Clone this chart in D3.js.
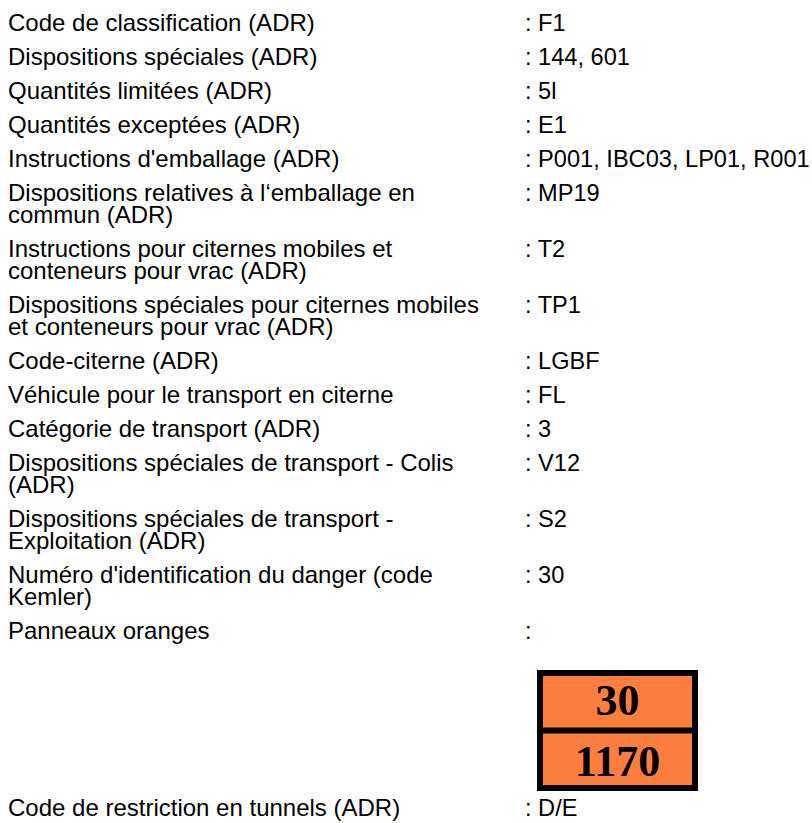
<!DOCTYPE html>
<html lang="fr">
<head>
    <meta charset="UTF-8">
    <title>ADR</title>
    <script src="https://d3js.org/d3.v7.min.js"></script>
</head>
<style>
    * { margin: 0; padding: 0; }
    body { background: #fff; }
    text { font-family: "Liberation Sans", Arial, sans-serif; font-size: 24px; fill: #000; }
    text.val { font-size: 23.6px; }
</style>
<body>
<script>
    // each label is a list of lines
    var labels = [
        ["Code de classification (ADR)"],
        ["Dispositions spéciales (ADR)"],
        ["Quantités limitées (ADR)"],
        ["Quantités exceptées (ADR)"],
        ["Instructions d'emballage (ADR)"],
        ["Dispositions relatives à l‘emballage en", "commun (ADR)"],
        ["Instructions pour citernes mobiles et", "conteneurs pour vrac (ADR)"],
        ["Dispositions spéciales pour citernes mobiles", "et conteneurs pour vrac (ADR)"],
        ["Code-citerne (ADR)"],
        ["Véhicule pour le transport en citerne"],
        ["Catégorie de transport (ADR)"],
        ["Dispositions spéciales de transport - Colis", "(ADR)"],
        ["Dispositions spéciales de transport -", "Exploitation (ADR)"],
        ["Numéro d'identification du danger (code", "Kemler)"],
        ["Panneaux oranges"],
        ["Code de restriction en tunnels (ADR)"]
    ]
    var values = [": F1", ": 144, 601", ": 5l", ": E1", ": P001, IBC03, LP01, R001",
        ": MP19", ": T2", ": TP1", ": LGBF", ": FL", ": 3", ": V12", ": S2", ": 30", ":", ": D/E"]
    var panelIndex = 14
    var panelNumbers = ["30", "1170"]

    var W = 812, H = 823
    var lineH = 22, rowPad = 12, panelRowH = 177
    var labelX = 8, valueX = 525, startY = 7, baseOff = 24

    // row heights -> cumulative tops
    var heights = labels.map(function(l, i) {
        return i === panelIndex ? panelRowH : l.length * lineH + rowPad
    })
    var tops = []
    heights.reduce(function(acc, h) { tops.push(acc); return acc + h }, startY)

    var svg = d3.select("body").append("svg")
        .attr("width", W).attr("height", H)

    var rows = svg.selectAll("g.row")
        .data(labels)
        .enter().append("g")
        .attr("class", "row")
        .attr("transform", function(d, i) { return "translate(0," + tops[i] + ")" })

    rows.append("text")
        .attr("x", labelX)
        .selectAll("tspan")
        .data(function(d) { return d })
        .enter().append("tspan")
        .attr("x", labelX)
        .attr("y", function(d, j) { return baseOff + j * lineH })
        .text(function(d) { return d })

    rows.append("text")
        .attr("class", "val")
        .attr("x", valueX)
        .attr("y", baseOff)
        .text(function(d, i) { return values[i] })

    // orange panel
    var px = 537, py = tops[panelIndex] + baseOff + 31, pw = 161, ph = 121, b = 6
    var panel = svg.append("g").attr("transform", "translate(" + px + "," + py + ")")
    panel.append("rect").attr("width", pw).attr("height", ph).attr("fill", "#000")
    var cellH = (ph - 3 * b) / 2
    var cells = panel.selectAll("g.cell").data(panelNumbers).enter().append("g")
        .attr("transform", function(d, i) { return "translate(" + b + "," + (b + i * (cellH + b)) + ")" })
    cells.append("rect")
        .attr("width", pw - 2 * b).attr("height", cellH)
        .attr("fill", "#fc7f3f")
    cells.append("text")
        .attr("x", (pw - 2 * b) / 2)
        .attr("y", function(d, i) { return i === 0 ? 39 : 42 })
        .attr("text-anchor", "middle")
        .style("font-family", "'Liberation Serif', 'Times New Roman', serif")
        .style("font-weight", "bold")
        .style("font-size", "44px")
        .text(function(d) { return d })
</script>
</body>
</html>
